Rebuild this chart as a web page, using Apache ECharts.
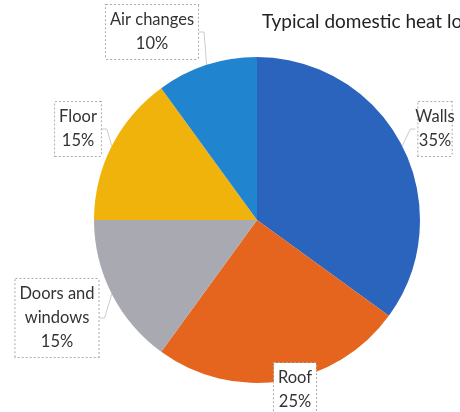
<!DOCTYPE html>
<html><head><meta charset="utf-8">
<script src="https://cdn.jsdelivr.net/npm/echarts@6/dist/echarts.min.js"></script>
<style>html,body{margin:0;padding:0;background:#fff}#c{width:460px;height:412px}</style>
</head><body><div id="c"></div>
<script>
const categories = ['Walls', 'Roof', 'Doors and\nwindows', 'Floor', 'Air changes'];
const values = [35, 25, 15, 15, 10];
const colors = ['#2a64bd', '#e5651f', '#a9a9b2', '#efb30c', '#2184cf'];
const labelPos = [[435,129],[295,390],[57,318],[78,129],[152,32]];

const chart = echarts.init(document.getElementById('c'));
chart.setOption({
  animation: false,
  title: { text: 'Typical domestic heat losses', left: 262, top: 12, padding: 0,
    textStyle: { fontFamily: 'Lato', fontSize: 19, fontWeight: 'normal', color: '#222' } },
  series: [{
    type: 'pie', center: [257, 220], radius: 163, startAngle: 90, clockwise: true,
    data: categories.map((c, i) => ({ name: c, value: values[i], itemStyle: { color: colors[i] } })),
    label: {
      formatter: '{b}\n{d}%', fontFamily: 'Lato', fontSize: 16.5, lineHeight: 24, color: '#333',
      align: 'center', backgroundColor: '#fff', borderColor: '#aaa', borderType: 'dotted',
      borderWidth: 1, padding: [3, 4, 3, 4], overflow: 'none'
    },
    labelLine: { show: true, lineStyle: { color: '#ccc', width: 1 }, length: 5, length2: 5 },
    labelLayout: (p) => ({ x: labelPos[p.dataIndex][0], y: labelPos[p.dataIndex][1], align: 'center', verticalAlign: 'middle' })
  }]
});
</script></body></html>
